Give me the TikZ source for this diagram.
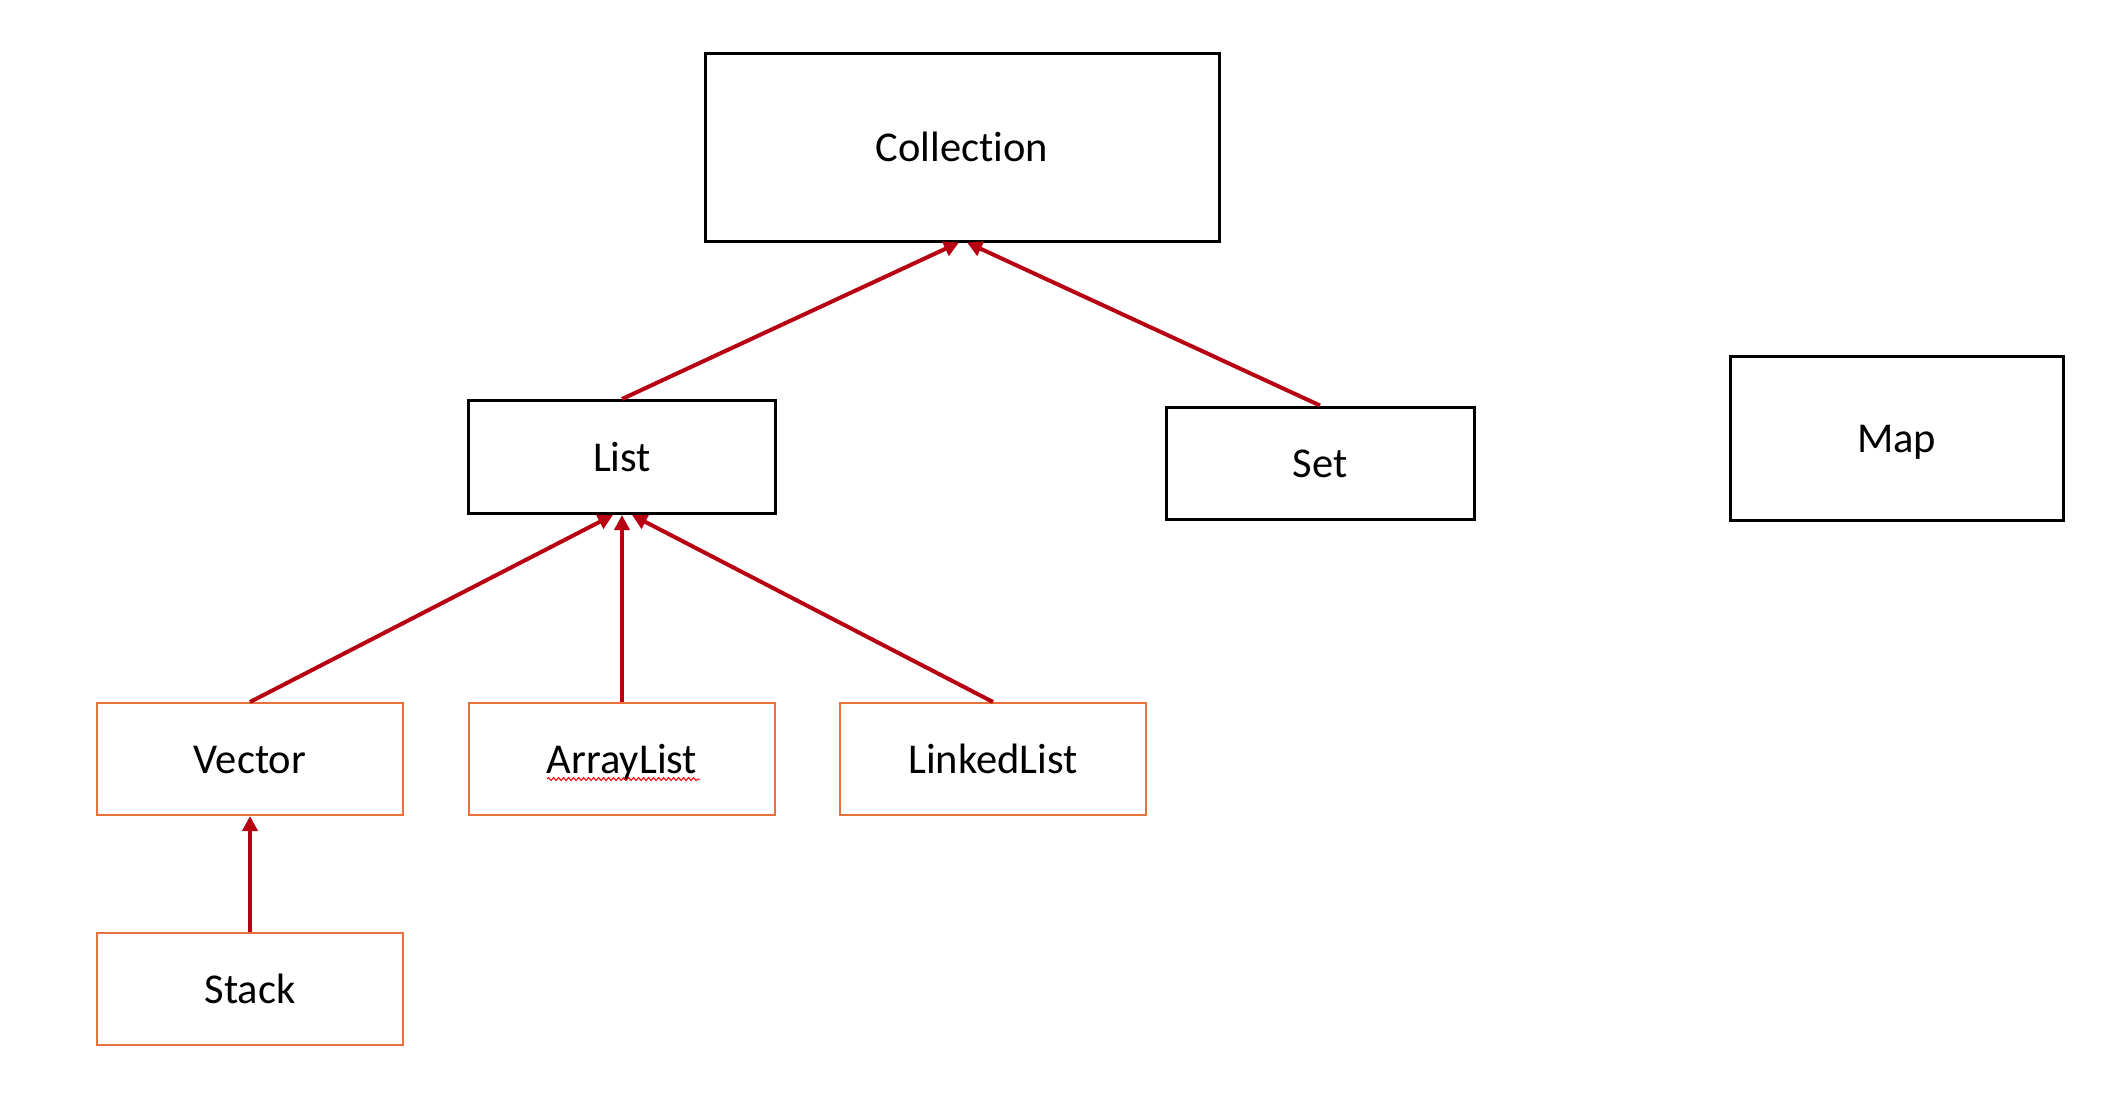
\documentclass[tikz,border=0pt]{standalone}
\usepackage{fontspec}
\setmainfont[Ligatures=NoCommon]{Carlito}
\usetikzlibrary{arrows.meta,calc,decorations.pathmorphing}
\definecolor{arrred}{HTML}{B70012}
\definecolor{boxorange}{HTML}{E8703A}
\begin{document}
\begin{tikzpicture}[x=1pt,y=-1pt,
  boxtext/.style={inner sep=0pt,text height=28pt,text depth=0pt,font=\fontsize{42.5}{50}\selectfont},
  blackbox/.style={boxtext,draw=black,line width=3pt,minimum width=#1},
  orangebox/.style={boxtext,draw=boxorange,line width=2pt,minimum width=306pt,minimum height=112pt},
  inherit/.style={draw=arrred,line width=4pt,-{Triangle[length=15pt,width=15pt]}}]
\useasboundingbox (0,0) rectangle (2112,1110);
\node[blackbox=514pt,minimum height=187pt] (coll) at (962,147.5) {Collection};
\node[blackbox=307pt,minimum height=113pt] (list) at (622,457) {List};
\node[blackbox=308pt,minimum height=112pt] (set) at (1320,463) {Set};
\node[blackbox=333pt,minimum height=164pt] (map) at (1896.5,438) {Map};
\node[orangebox] (vec) at (250,759) {Vector};
\node[orangebox] (al) at (622,759) {ArrayList};
\node[orangebox] (ll) at (993,759) {LinkedList};
\node[orangebox] (stack) at (250,989) {Stack};
\draw[inherit] (list.north) -- ($(coll.south)+(-3,0)$);
\draw[inherit] (set.north) -- ($(coll.south)+(5,0)$);
\draw[inherit] (vec.north) -- ($(list.south)+(-9,0)$);
\draw[inherit] (al.north) -- (list.south);
\draw[inherit] (ll.north) -- ($(list.south)+(10,0)$);
\draw[inherit] (stack.north) -- (vec.south);
\draw[red,line width=1pt,decorate,decoration={snake,amplitude=1.5pt,segment length=5pt}]
  ($(al.center)+(-75,20)$) -- ($(al.center)+(78,20)$);
\end{tikzpicture}
\end{document}
